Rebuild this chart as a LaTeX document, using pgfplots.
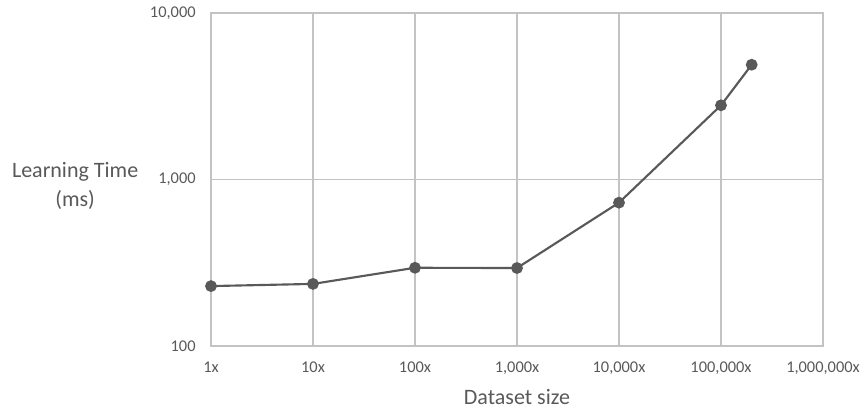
\documentclass[border=0pt]{standalone}
\usepackage{fontspec}
\setmainfont{Carlito}
\usepackage{pgfplots}
\pgfplotsset{compat=1.18}
\definecolor{txt}{HTML}{595959}
\definecolor{gridc}{HTML}{C3C3C3}
\definecolor{linec}{HTML}{595959}
\begin{document}
\begin{tikzpicture}
\useasboundingbox (-158.25pt,-48.75pt) rectangle (490.5pt,259.5pt);
\begin{axis}[
  at={(0,0)}, anchor=south west,
  scale only axis, width=459pt, height=249.75pt,
  xmode=log, ymode=log,
  xmin=1, xmax=1000000, ymin=100, ymax=10000,
  xtick={1,10,100,1000,10000,100000,1000000},
  xticklabels={1x,10x,100x,{1,000x},{10,000x},{100,000x},{1,000,000x}},
  ytick={100,1000,10000},
  yticklabels={100,{1,000},{10,000}},
  minor xtick={}, minor ytick={},
  major tick length=0pt,
  tick style={draw=none},
  grid=major,
  major grid style={draw=gridc, line width=0.9pt},
  axis line style={draw=gridc, line width=0.9pt},
  ticklabel style={font=\fontsize{12.3}{14}\selectfont, text=txt},
  xticklabel style={anchor=base, yshift=-20pt},
  yticklabel style={anchor=east, xshift=-8pt},
  xlabel={Dataset size},
  ylabel={Learning Time\\[2pt](ms)},
  label style={font=\fontsize{16.5}{20}\selectfont, text=txt},
  xlabel style={at={(axis description cs:0.5,-0.152)}, anchor=center},
  ylabel style={rotate=-90, align=center, at={(axis description cs:-0.222,0.48)}, anchor=center},
]
\addplot[color=linec, line width=1.6pt, mark=*, mark size=3.6pt, mark options={fill=linec, draw=linec}]
coordinates {
(1,229) (10,236) (100,295) (1000,294) (10000,726) (100000,2790) (200000,4890)
};
\end{axis}
\end{tikzpicture}
\end{document}
